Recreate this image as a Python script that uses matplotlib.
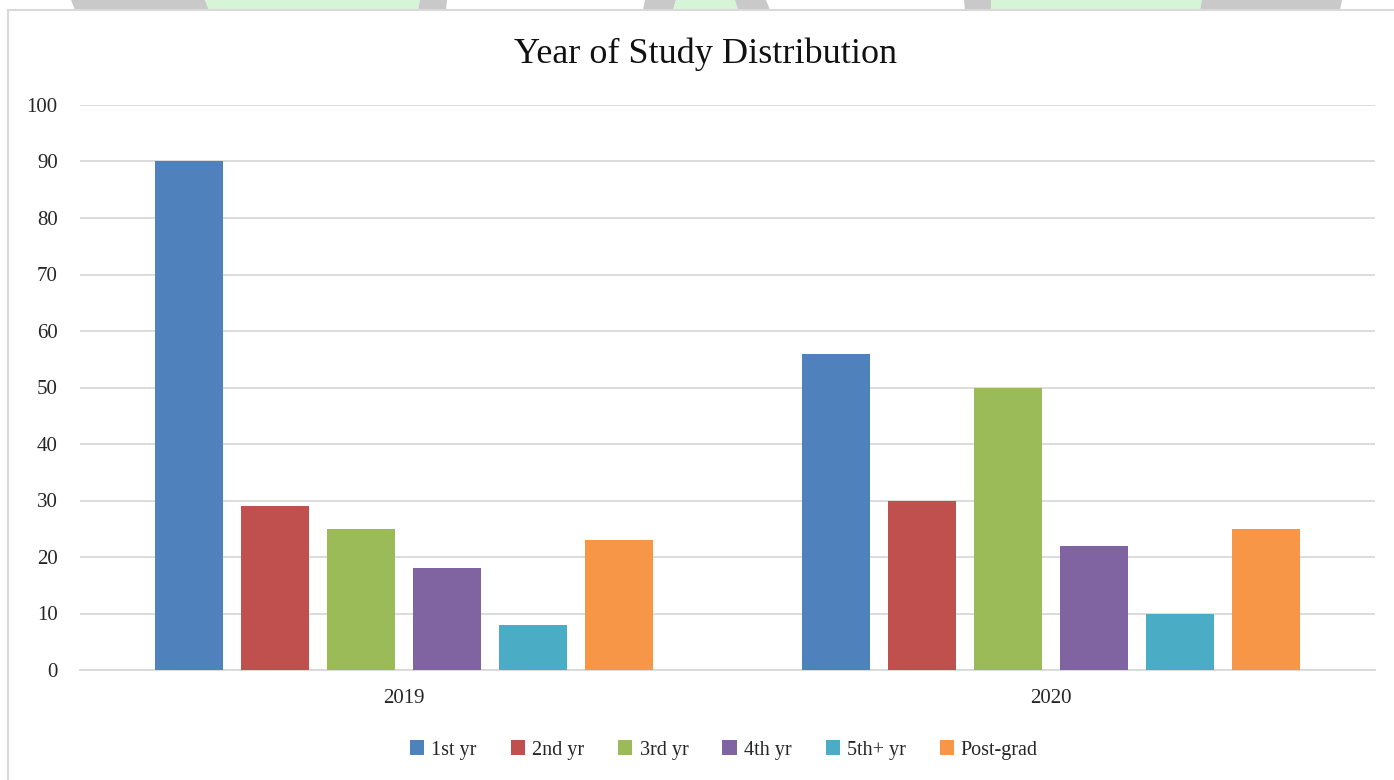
import matplotlib
matplotlib.use("Agg")
import matplotlib.pyplot as plt
import numpy as np
from matplotlib.patches import Polygon, Rectangle

categories = ["2019", "2020"]
series_names = ["1st yr", "2nd yr", "3rd yr", "4th yr", "5th+ yr", "Post-grad"]
values_2019 = [90, 29, 25, 18, 8, 23]
values_2020 = [56, 30, 50, 22, 10, 25]
colors = ["#4F81BD", "#C0504D", "#9BBB59", "#8064A2", "#4BACC6", "#F79646"]
yticks = [0, 10, 20, 30, 40, 50, 60, 70, 80, 90, 100]

plt.rcParams['font.family'] = ['Liberation Serif', 'DejaVu Serif']

W, H = 1394, 780
fig = plt.figure(figsize=(W / 100, H / 100), dpi=100)

# background decoration at top edge
def fpoly(pts, color):
    fig.patches.append(Polygon([(x / W, 1 - y / H) for x, y in pts], closed=True,
                               transform=fig.transFigure, facecolor=color,
                               edgecolor='none', zorder=0))

grey = "#c9c9c9"
green = "#d6f5d6"
fpoly([(71, 0), (205, 0), (209, 10), (75, 10)], grey)
fpoly([(205, 0), (420, 0), (418, 10), (209, 10)], green)
fpoly([(420, 0), (447, 0), (446, 10), (418, 10)], grey)
fpoly([(645, 0), (676, 0), (673, 10), (643, 10)], grey)
fpoly([(676, 0), (735, 0), (738, 10), (673, 10)], green)
fpoly([(735, 0), (766, 0), (770, 10), (738, 10)], grey)
fpoly([(964, 0), (991, 0), (991, 10), (965, 10)], grey)
fpoly([(991, 0), (1202, 0), (1200, 10), (991, 10)], green)
fpoly([(1202, 0), (1342, 0), (1340, 10), (1200, 10)], grey)

# chart frame
fig.patches.append(Rectangle((8 / W, -0.01), 1.02, 1 - 10 / H + 0.01,
                             transform=fig.transFigure, facecolor='white',
                             edgecolor='#d9d9d9', linewidth=1.5, zorder=1))

ax = fig.add_axes([80 / W, 1 - 670 / H, (1375 - 80) / W, (670 - 105) / H])
ax.set_facecolor('none')
ax.set_zorder(2)

x = np.arange(len(categories))
width = 0.105
step = 0.1328
n = len(series_names)
for i, name in enumerate(series_names):
    vals = [values_2019[i], values_2020[i]]
    ax.bar(x + (i - (n - 1) / 2) * step, vals, width, color=colors[i], label=name, zorder=3)

ax.set_xlim(-0.5, 1.5)
ax.set_ylim(0, 100)
ax.set_yticks(yticks)
ax.set_yticklabels([str(t) for t in yticks])
ax.set_xticks(x)
ax.set_xticklabels(categories)
ax.yaxis.grid(True, color='#d9d9d9', linewidth=1.3, zorder=0)
ax.set_axisbelow(True)
for s in ['top', 'right', 'left']:
    ax.spines[s].set_visible(False)
ax.spines['bottom'].set_color('#d9d9d9')
ax.spines['bottom'].set_linewidth(1.3)
ax.tick_params(axis='y', length=0, pad=16, labelsize=15, labelcolor='#262626')
ax.tick_params(axis='x', length=0, pad=14, labelsize=15, labelcolor='#262626')

fig.text(706 / W, 1 - 54 / H, "Year of Study Distribution", ha='center', va='center',
         fontsize=26, color='#111111')

leg = fig.legend(loc='center', bbox_to_anchor=(724 / W, 1 - 750 / H), ncol=6,
                 frameon=False, fontsize=14.5, handlelength=0.7, handleheight=0.7,
                 handletextpad=0.35, columnspacing=1.7)
for t in leg.get_texts():
    t.set_color('#262626')

fig.savefig("out.png", dpi=100)
